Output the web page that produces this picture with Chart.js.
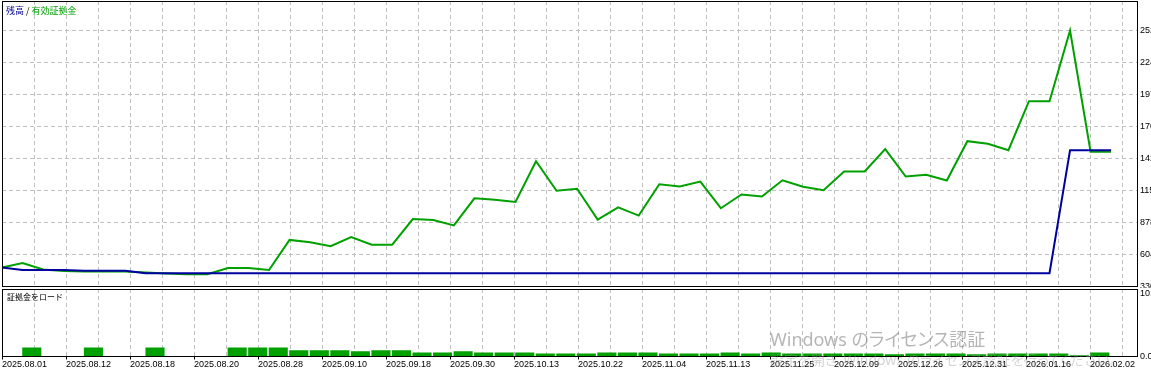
<!DOCTYPE html>
<html lang="ja">

<head>
    <meta charset="UTF-8">
    <title>残高 / 有効証拠金</title>
    <script src="https://cdn.jsdelivr.net/npm/chart.js"></script>
    <style>
        html, body {
            margin: 0;
            padding: 0;
            width: 1151px;
            height: 370px;
            overflow: hidden;
            background: #fff;
        }

        .panel {
            position: absolute;
            left: 0;
            width: 1175px;
            background: #fff;
        }

        .panel canvas {
            display: block;
        }

        #balancePanel { top: 0; height: 288px; }
        #loadPanel { top: 288px; height: 82px; z-index: 1; }

        .caption {
            position: absolute;
            z-index: 2;
            font-family: "Noto Sans CJK JP", sans-serif;
            font-size: 9px;
            line-height: 9px;
            white-space: nowrap;
        }

        .watermark {
            position: absolute;
            z-index: 3;
            left: 770px;
            white-space: nowrap;
            font-family: "Noto Sans", "Noto Sans CJK JP", sans-serif;
            font-feature-settings: "palt";
            pointer-events: none;
        }
    </style>
</head>

<body>
    <div class="panel" id="balancePanel"><canvas id="balanceChart" width="1175" height="288"></canvas></div>
    <div class="panel" id="loadPanel"><canvas id="loadChart" width="1175" height="82"></canvas></div>

    <div class="caption" style="left:6px; top:6px;"><span style="color:#000090">残高</span> / <span style="color:#00a000">有効証拠金</span></div>
    <div class="caption" style="left:7px; top:292px; font-size:8px; color:#000;">証拠金をロード</div>

    <div class="watermark" style="top:330px; font-size:18px; line-height:18px; color:rgba(120,120,120,0.55);">Windows のライセンス認証</div>
    <div class="watermark" style="top:353px; font-size:14px; line-height:14px; color:rgba(150,150,150,0.4);">設定を開き、Windows のライセンス認証を行ってください。</div>

    <script>
        // date shown under every second grid line
        var dateLabels = ['2025.08.01', '2025.08.12', '2025.08.18', '2025.08.20', '2025.08.28', '2025.09.10',
            '2025.09.18', '2025.09.30', '2025.10.13', '2025.10.22', '2025.11.04', '2025.11.13',
            '2025.11.25', '2025.12.09', '2025.12.26', '2025.12.31', '2026.01.16', '2026.02.02'];

        // one value per trade
        var balance = [493, 472, 472, 472, 465, 465, 465, 443, 443, 443,
            443, 443, 443, 443, 443, 443, 443, 443, 443, 443,
            443, 443, 443, 443, 443, 443, 443, 443, 443, 443,
            443, 443, 443, 443, 443, 443, 443, 443, 443, 443,
            443, 443, 443, 443, 443, 443, 443, 443, 443, 443,
            443, 443, 1494, 1494, 1494];

        var equity = [493, 531, 476, 463, 458, 458, 458, 450, 441, 435,
            435, 488, 488, 471, 728, 709, 675, 752, 687, 687,
            906, 898, 852, 1084, 1072, 1052, 1400, 1148, 1165, 902,
            1007, 936, 1204, 1185, 1227, 999, 1116, 1099, 1238, 1182,
            1153, 1313, 1313, 1504, 1270, 1285, 1236, 1572, 1550, 1495,
            1914, 1914, 2518, 1482, 1482];

        var marginLoad = [0, 1.45, 0, 0, 1.45, 0, 0, 1.45, 0, 0,
            0, 1.45, 1.45, 1.45, 1.0, 1.0, 1.0, 0.85, 1.0, 1.0,
            0.65, 0.65, 0.85, 0.65, 0.65, 0.65, 0.5, 0.5, 0.5, 0.65,
            0.65, 0.65, 0.5, 0.5, 0.5, 0.65, 0.5, 0.65, 0.5, 0.5,
            0.5, 0.5, 0.5, 0.35, 0.5, 0.5, 0.5, 0.35, 0.5, 0.5,
            0.5, 0.5, 0.2, 0.65];

        var balanceTicks = [330, 604, 878, 1152, 1426, 1700, 1974, 2248, 2522];
        var loadTicks = [0, 10];

        var xMax = 55.26;      // trades visible across the plot
        var gridStep = 1.558;  // trades per grid cell
        var gridCount = 35;

        var gridValues = [];
        for (var k = 0; k <= gridCount; k++) {
            gridValues.push(k * gridStep);
        }

        function toPoints(values) {
            return values.map(function (v, i) { return { x: i, y: v }; });
        }

        // fixed axis sizes, no extra room for overhanging labels
        function fixSize(prop, size) {
            return function (s) {
                s[prop] = size;
                s.paddingTop = 0;
                s.paddingBottom = 0;
                s.paddingLeft = 0;
                s.paddingRight = 0;
            };
        }

        // black box around the plot area
        var framePlugin = {
            id: 'frame',
            afterDraw: function (chart) {
                var a = chart.chartArea;
                var c = chart.ctx;
                var l = Math.floor(a.left), t = Math.floor(a.top);
                var r = Math.floor(a.right), b = Math.floor(a.bottom);
                c.save();
                c.strokeStyle = '#000';
                c.lineWidth = 1;
                c.strokeRect(l + 0.5, t + 0.5, r - l, b - t);
                c.restore();
            }
        };

        Chart.defaults.font.family = '"Liberation Sans", Arial, sans-serif';
        Chart.defaults.font.size = 9;
        Chart.defaults.color = '#000';

        var gridColor = '#c0c0c0';
        var dash = [4, 3];

        new Chart(document.getElementById('balanceChart'), {
            type: 'line',
            data: {
                datasets: [{
                    label: '残高',
                    data: toPoints(balance),
                    borderColor: '#0000a0',
                    borderWidth: 2,
                    pointRadius: 0,
                    tension: 0,
                    order: 0
                }, {
                    label: '有効証拠金',
                    data: toPoints(equity),
                    borderColor: '#00a000',
                    borderWidth: 2,
                    pointRadius: 0,
                    tension: 0,
                    order: 1
                }]
            },
            options: {
                responsive: false,
                animation: false,
                layout: { padding: { top: 1, left: 2, right: 0, bottom: 0 } },
                plugins: { legend: { display: false }, tooltip: { enabled: false } },
                scales: {
                    x: {
                        type: 'linear',
                        min: 0,
                        max: xMax,
                        afterBuildTicks: function (s) { s.ticks = gridValues.map(function (v) { return { value: v }; }); },
                        afterFit: fixSize('height', 1.5),
                        ticks: { display: false },
                        grid: { color: gridColor, drawTicks: false },
                        border: { display: false, dash: dash }
                    },
                    y: {
                        position: 'right',
                        min: 330,
                        max: 2770,
                        afterBuildTicks: function (s) { s.ticks = balanceTicks.map(function (v) { return { value: v }; }); },
                        afterFit: fixSize('width', 38),
                        ticks: { padding: 3, callback: function (v) { return String(v); } },
                        grid: { color: gridColor, drawTicks: false },
                        border: { display: false, dash: dash }
                    }
                }
            },
            plugins: [framePlugin]
        });

        new Chart(document.getElementById('loadChart'), {
            type: 'bar',
            data: {
                datasets: [{
                    label: '証拠金をロード',
                    data: marginLoad.map(function (v, i) { return { x: i + 0.45, y: v }; }),
                    backgroundColor: '#00a000',
                    borderWidth: 0,
                    barPercentage: 1,
                    categoryPercentage: 0.93
                }]
            },
            options: {
                responsive: false,
                animation: false,
                layout: { padding: { top: 1, left: 2, right: 0, bottom: 0 } },
                plugins: { legend: { display: false }, tooltip: { enabled: false } },
                scales: {
                    x: {
                        type: 'linear',
                        offset: false,
                        min: 0,
                        max: xMax,
                        afterBuildTicks: function (s) { s.ticks = gridValues.map(function (v) { return { value: v }; }); },
                        afterFit: fixSize('height', 13.5),
                        ticks: {
                            autoSkip: false,
                            maxRotation: 0,
                            align: 'start',
                            padding: 0,
                            callback: function (v, i) { return i % 2 === 0 ? (dateLabels[i / 2] || '') : ''; }
                        },
                        grid: {
                            offset: false,
                            color: gridColor,
                            drawTicks: true,
                            tickLength: 3,
                            tickBorderDash: [],
                            tickColor: function (c) { return c.index % 2 === 0 ? '#000' : 'rgba(0,0,0,0)'; }
                        },
                        border: { display: false, dash: dash }
                    },
                    y: {
                        position: 'right',
                        min: 0,
                        max: 10.8,
                        afterBuildTicks: function (s) { s.ticks = loadTicks.map(function (v) { return { value: v }; }); },
                        afterFit: fixSize('width', 38),
                        ticks: { padding: 3, callback: function (v) { return v.toFixed(2); } },
                        grid: { display: false, drawTicks: false },
                        border: { display: false }
                    }
                }
            },
            plugins: [framePlugin]
        });
    </script>
</body>

</html>
